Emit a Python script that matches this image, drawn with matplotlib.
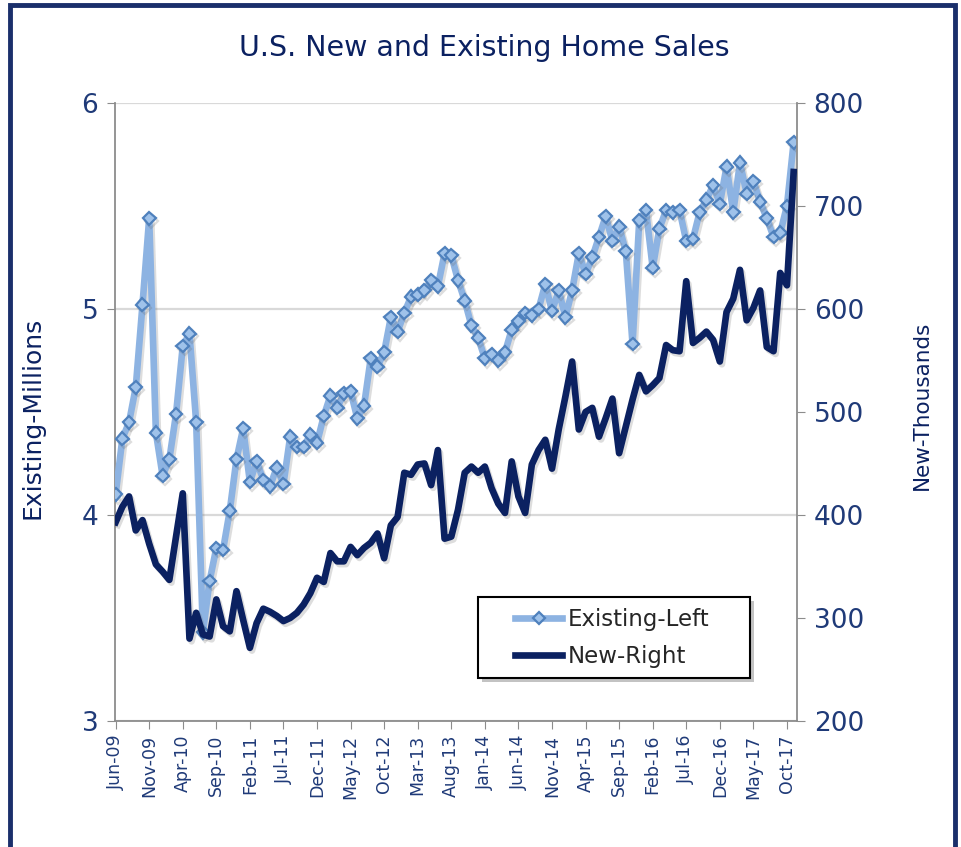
import matplotlib
matplotlib.use('Agg')
import matplotlib.pyplot as plt
import matplotlib.patheffects as pe
from matplotlib.patches import Rectangle

# monthly data, Jun-09 .. Nov-17
existing = [4.10, 4.37, 4.45, 4.62, 5.02, 5.44, 4.40, 4.19, 4.27, 4.49,
            4.82, 4.88, 4.45, 3.43, 3.68, 3.84, 3.83, 4.02, 4.27, 4.42,
            4.16, 4.26, 4.17, 4.14, 4.23, 4.15, 4.38, 4.33, 4.33, 4.39,
            4.35, 4.48, 4.58, 4.52, 4.59, 4.60, 4.47, 4.53, 4.76, 4.72,
            4.79, 4.96, 4.89, 4.98, 5.06, 5.07, 5.09, 5.14, 5.11, 5.27,
            5.26, 5.14, 5.04, 4.92, 4.86, 4.76, 4.78, 4.75, 4.79, 4.90,
            4.94, 4.98, 4.97, 5.00, 5.12, 4.99, 5.09, 4.96, 5.09, 5.27,
            5.17, 5.25, 5.35, 5.45, 5.33, 5.40, 5.28, 4.83, 5.43, 5.48,
            5.20, 5.39, 5.48, 5.47, 5.48, 5.33, 5.34, 5.47, 5.53, 5.60,
            5.51, 5.69, 5.47, 5.71, 5.56, 5.62, 5.52, 5.44, 5.35, 5.37,
            5.50, 5.81]

new = [393, 408, 418, 385, 395, 372, 352, 345, 337, 379,
       421, 280, 305, 284, 282, 318, 292, 287, 326, 298,
       271, 295, 309, 306, 302, 297, 300, 305, 313, 324,
       339, 335, 363, 355, 355, 369, 361, 368, 373, 382,
       358, 390, 398, 441, 439, 449, 450, 429, 463, 377,
       379, 405, 441, 447, 441, 447, 426, 411, 402, 452,
       418, 402, 449, 463, 473, 445, 483, 515, 549, 483,
       500, 504, 476, 494, 513, 460, 486, 512, 536, 520,
       526, 533, 565, 560, 559, 627, 567, 572, 578, 570,
       549, 597, 610, 638, 589, 601, 618, 563, 559, 635,
       623, 733]

tick_labels = ['Jun-09', 'Nov-09', 'Apr-10', 'Sep-10', 'Feb-11', 'Jul-11', 'Dec-11',
               'May-12', 'Oct-12', 'Mar-13', 'Aug-13', 'Jan-14', 'Jun-14', 'Nov-14',
               'Apr-15', 'Sep-15', 'Feb-16', 'Jul-16', 'Dec-16', 'May-17', 'Oct-17']

navy = '#0b2161'
text_c = '#1f3a78'
light = '#8db3e2'
axis_c = '#8c8c8c'

x = list(range(len(existing)))
tick_pos = list(range(0, len(existing), 5))

fig = plt.figure(figsize=(9.62, 8.47), dpi=100)
ax = fig.add_axes([0.1195, 0.1488, 0.709, 0.7296])
ax2 = ax.twinx()

shadow = [pe.SimpleLineShadow(offset=(1.5, -2), shadow_color='#666666', alpha=0.22), pe.Normal()]

l1, = ax.plot(x, existing, color=light, lw=4.8, marker='D', ms=6.5,
              mfc='#9fc2ea', mec='#4f81bd', mew=1.6, zorder=3, path_effects=shadow,
              solid_joinstyle='round', label='Existing-Left')
l2, = ax2.plot(x, new, color=navy, lw=4.8, zorder=3, path_effects=shadow,
               solid_joinstyle='round', label='New-Right')

ax.set_xlim(-0.1, 101.5)
ax.set_ylim(3, 6)
ax.set_yticks([3, 4, 5, 6])
ax2.set_ylim(200, 800)
ax2.set_yticks(range(200, 801, 100))

ax.set_xticks(tick_pos)
ax.set_xticklabels(tick_labels, rotation=90, fontsize=12.5, color=text_c)
ax.tick_params(axis='x', direction='out', length=6, color=axis_c, pad=4)
ax.tick_params(axis='y', direction='out', length=6, color=axis_c, labelsize=19, labelcolor=text_c, pad=6)
ax2.tick_params(axis='y', direction='out', length=6, color=axis_c, labelsize=19, labelcolor=text_c, pad=6)

ax.yaxis.grid(True, color='#d9d9d9', lw=1.6)
ax.set_axisbelow(True)

for s in ['top', 'right']:
    ax.spines[s].set_visible(False)
for s in ['top', 'left', 'bottom']:
    ax2.spines[s].set_visible(False)
ax.spines['left'].set_color(axis_c)
ax.spines['bottom'].set_color(axis_c)
ax2.spines['right'].set_color(axis_c)
for sp in [ax.spines['left'], ax.spines['bottom'], ax2.spines['right']]:
    sp.set_linewidth(1.3)

ax.set_ylabel('Existing-Millions', fontsize=18, color=navy)
ax.yaxis.set_label_coords(-0.104, 0.49)
ax2.set_ylabel('New-Thousands', fontsize=15.5, color=navy, rotation=90)
ax2.yaxis.set_label_coords(1.168, 0.51)

fig.text(484 / 962, 1 - 48 / 847, 'U.S. New and Existing Home Sales',
         ha='center', va='center', fontsize=20.5, color=navy)

# legend box with drop shadow
box = Rectangle((0.532, 0.0696), 0.399, 0.131, transform=ax2.transAxes,
                facecolor='white', edgecolor='black', lw=1.5, zorder=6,
                path_effects=[pe.withSimplePatchShadow(offset=(3, -3), shadow_rgbFace='#555555', alpha=0.35)])
ax2.add_patch(box)
leg = ax2.legend(handles=[l1, l2], loc='center left', bbox_to_anchor=(0.5865, 0.134),
                 frameon=False, fontsize=16.5, handlelength=2.06, handletextpad=0.26,
                 labelspacing=0.6, borderpad=0, borderaxespad=0)
leg.set_zorder(7)
for t in leg.get_texts():
    t.set_color('#262626')
for h in leg.legend_handles:
    h.set_path_effects([])

# outer frame
fig.patches.append(Rectangle((10 / 962, -0.05), 945 / 962, 1.05 - 5 / 847,
                             transform=fig.transFigure, fill=False,
                             edgecolor='#1a2f6b', lw=3.5))

fig.savefig('out.png', dpi=100)
